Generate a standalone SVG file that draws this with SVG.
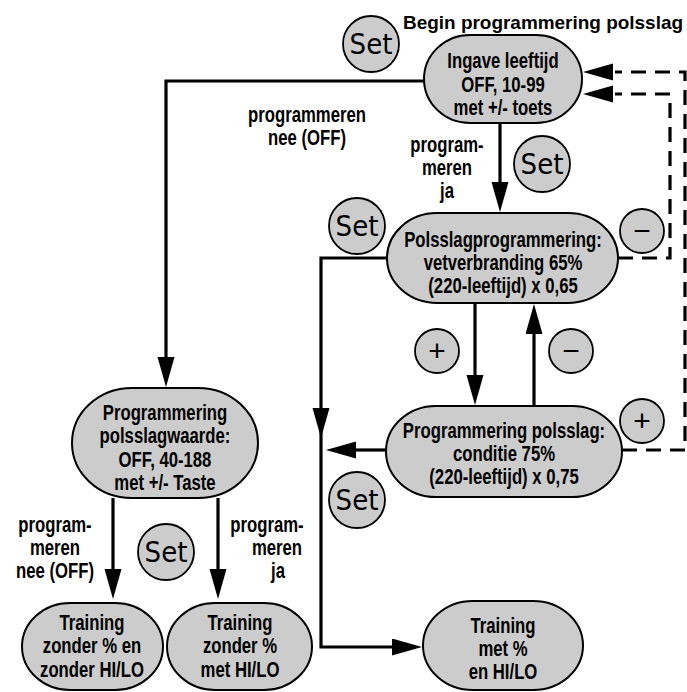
<svg xmlns="http://www.w3.org/2000/svg" width="687" height="692" viewBox="0 0 687 692">
  <style>
    .node { fill: #cccccc; stroke: #000; stroke-width: 2; }
    .key { fill: #cccccc; stroke: #000; stroke-width: 1.8; }
    .t { font-family: 'Liberation Sans', Arial, sans-serif; font-weight: bold; font-size: 22px; fill: #000; text-anchor: middle; }
    .set { font-family: 'DejaVu Sans Condensed', 'DejaVu Sans', sans-serif; font-size: 29px; fill: #000; text-anchor: middle; }
    .sym { font-family: 'Liberation Sans', 'DejaVu Sans', sans-serif; font-size: 30px; fill: #000; text-anchor: middle; }
    .title { font-family: 'Liberation Sans', Arial, sans-serif; font-weight: bold; font-size: 19px; fill: #000; }
    .wire { fill: none; stroke: #000; stroke-width: 3.2; }
    .dash { fill: none; stroke: #000; stroke-width: 3.2; stroke-dasharray: 15 9; }
  </style>
  <defs>
    <marker id="arrow" markerUnits="userSpaceOnUse" markerWidth="32" markerHeight="18" refX="1" refY="8.5" orient="auto">
      <path d="M0,0 L30,8.5 L0,17 Z" fill="#000"/>
    </marker>
  </defs>

  <rect width="687" height="692" fill="#fff"/>

  <!-- connectors -->
  <g id="connectors">
    <polyline class="wire" points="424,81 166,81 166,358" marker-end="url(#arrow)"/>
    <line class="wire" x1="500" y1="123" x2="500" y2="183" marker-end="url(#arrow)"/>
    <line class="wire" x1="475" y1="303" x2="475" y2="376" marker-end="url(#arrow)"/>
    <line class="wire" x1="534" y1="406" x2="534" y2="333" marker-end="url(#arrow)"/>
    <polyline class="wire" points="387,258 321,258 321,647 393,647" marker-end="url(#arrow)"/>
    <path d="M312.5,408 L329.5,408 L321,438 Z" fill="#000"/>
    <line class="wire" x1="386" y1="450" x2="355" y2="450" marker-end="url(#arrow)"/>
    <line class="wire" x1="113" y1="498" x2="113" y2="570" marker-end="url(#arrow)"/>
    <line class="wire" x1="218" y1="498" x2="218" y2="570" marker-end="url(#arrow)"/>
    <polyline class="dash" points="622,450 685,450 685,72 615,72"/>
    <path d="M613,63.5 L583,72 L613,80.5 Z" fill="#000"/>
    <polyline class="dash" points="618,258 670,258 670,94 615,94"/>
    <path d="M613,85.5 L583,94 L613,102.5 Z" fill="#000"/>
  </g>

  <text class="title" x="403" y="29" textLength="280" lengthAdjust="spacingAndGlyphs">Begin programmering polsslag</text>

  <!-- states (text set in a narrowed bold face) -->
  <g id="node-leeftijd">
    <rect class="node" x="424" y="35" width="158" height="88" rx="46" ry="44"/>
    <text class="t" transform="translate(503,68) scale(0.76,1)">Ingave leeftijd</text>
    <text class="t" transform="translate(503,92) scale(0.76,1)">OFF, 10-99</text>
    <text class="t" transform="translate(503,115) scale(0.76,1)">met +/- toets</text>
  </g>
  <g id="node-vetverbranding">
    <rect class="node" x="387" y="213" width="231" height="90" rx="50" ry="45"/>
    <text class="t" transform="translate(503,247) scale(0.76,1)">Polsslagprogrammering:</text>
    <text class="t" transform="translate(503,270) scale(0.76,1)">vetverbranding 65%</text>
    <text class="t" transform="translate(503,293) scale(0.76,1)">(220-leeftijd) x 0,65</text>
  </g>
  <g id="node-conditie">
    <rect class="node" x="386" y="406" width="236" height="91" rx="50" ry="45.5"/>
    <text class="t" transform="translate(504,438) scale(0.76,1)">Programmering polsslag:</text>
    <text class="t" transform="translate(504,461) scale(0.76,1)">conditie 75%</text>
    <text class="t" transform="translate(504,484) scale(0.76,1)">(220-leeftijd) x 0,75</text>
  </g>
  <g id="node-polsslagwaarde">
    <rect class="node" x="72" y="388" width="186" height="110" rx="60" ry="55"/>
    <text class="t" transform="translate(165,420) scale(0.76,1)">Programmering</text>
    <text class="t" transform="translate(165,443) scale(0.76,1)">polsslagwaarde:</text>
    <text class="t" transform="translate(165,467) scale(0.76,1)">OFF, 40-188</text>
    <text class="t" transform="translate(165,490) scale(0.76,1)">met +/- Taste</text>
  </g>
  <g id="node-zonder-zonder">
    <rect class="node" x="22" y="603" width="141" height="87" rx="48" ry="43.5"/>
    <text class="t" transform="translate(92,630) scale(0.76,1)">Training</text>
    <text class="t" transform="translate(92,653) scale(0.76,1)">zonder % en</text>
    <text class="t" transform="translate(92,677) scale(0.76,1)">zonder HI/LO</text>
  </g>
  <g id="node-zonder-met">
    <rect class="node" x="167" y="603" width="145" height="87" rx="48" ry="43.5"/>
    <text class="t" transform="translate(240,630) scale(0.76,1)">Training</text>
    <text class="t" transform="translate(240,653) scale(0.76,1)">zonder %</text>
    <text class="t" transform="translate(240,677) scale(0.76,1)">met HI/LO</text>
  </g>
  <g id="node-met-met">
    <rect class="node" x="423" y="601" width="160" height="89" rx="50" ry="44.5"/>
    <text class="t" transform="translate(503,633) scale(0.76,1)">Training</text>
    <text class="t" transform="translate(503,656) scale(0.76,1)">met %</text>
    <text class="t" transform="translate(503,679) scale(0.76,1)">en HI/LO</text>
  </g>

  <!-- key buttons -->
  <g id="keys">
    <circle class="key" cx="371" cy="44" r="28"/>
    <text class="set" x="371" y="54">Set</text>
    <circle class="key" cx="542" cy="164" r="28"/>
    <text class="set" x="542" y="174">Set</text>
    <circle class="key" cx="357" cy="226" r="28"/>
    <text class="set" x="357" y="236">Set</text>
    <circle class="key" cx="357" cy="500" r="28"/>
    <text class="set" x="357" y="510">Set</text>
    <circle class="key" cx="166" cy="552" r="28"/>
    <text class="set" x="166" y="562">Set</text>
    <circle class="key" cx="437" cy="351" r="22"/>
    <text class="sym" x="437" y="361">+</text>
    <circle class="key" cx="571" cy="351" r="22"/>
    <text class="sym" x="571" y="361">−</text>
    <circle class="key" cx="642" cy="231" r="22"/>
    <text class="sym" x="642" y="241">−</text>
    <circle class="key" cx="642" cy="421" r="22"/>
    <text class="sym" x="642" y="431">+</text>
  </g>

  <!-- branch labels -->
  <g id="labels">
    <text class="t" transform="translate(307,122) scale(0.76,1)">programmeren</text>
    <text class="t" transform="translate(307,145) scale(0.76,1)">nee (OFF)</text>
    <text class="t" transform="translate(447,152) scale(0.76,1)">program-</text>
    <text class="t" transform="translate(447,175) scale(0.76,1)">meren</text>
    <text class="t" transform="translate(447,198) scale(0.76,1)">ja</text>
    <text class="t" transform="translate(55,532) scale(0.76,1)">program-</text>
    <text class="t" transform="translate(55,555) scale(0.76,1)">meren</text>
    <text class="t" transform="translate(55,578) scale(0.76,1)">nee (OFF)</text>
    <text class="t" transform="translate(267,532) scale(0.76,1)">program-</text>
    <text class="t" transform="translate(277,555) scale(0.76,1)">meren</text>
    <text class="t" transform="translate(278,578) scale(0.76,1)">ja</text>
  </g>
</svg>
